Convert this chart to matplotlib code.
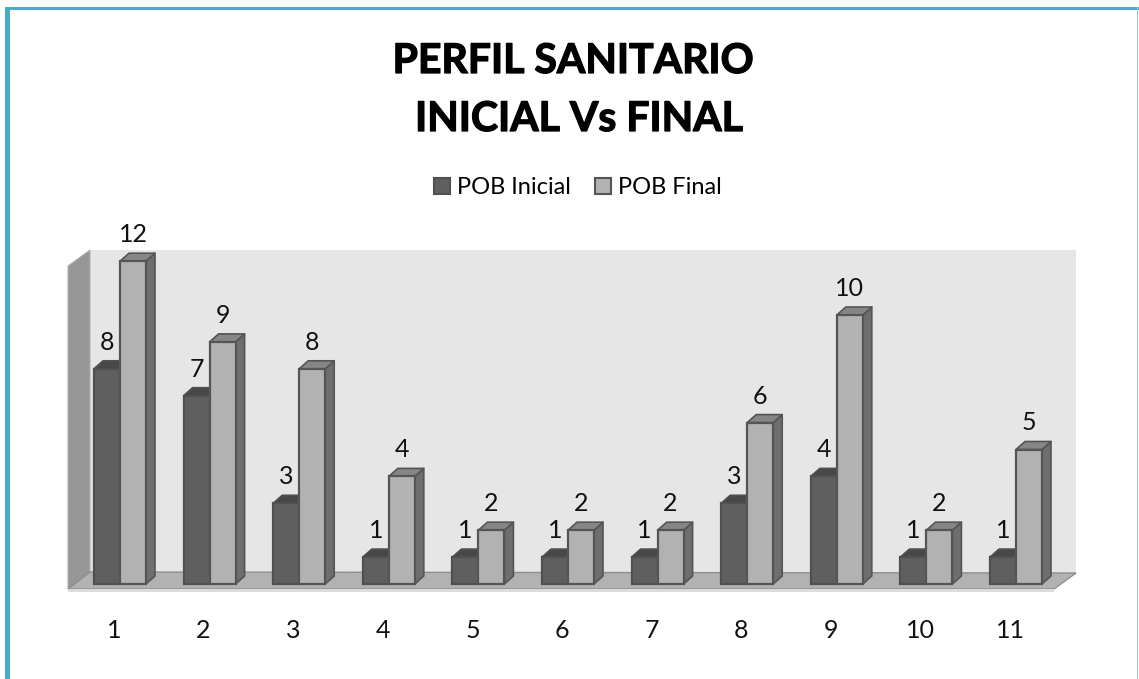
#!/usr/bin/env python3
"""Perfil sanitario, inicial vs final: fake-3D clustered columns."""
import matplotlib

matplotlib.use("Agg")
import matplotlib.patheffects as pe
import matplotlib.pyplot as plt
from matplotlib.patches import Patch, Polygon, Rectangle

categories = [1, 2, 3, 4, 5, 6, 7, 8, 9, 10, 11]
pob_inicial = [8, 7, 3, 1, 1, 1, 1, 3, 4, 1, 1]
pob_final = [12, 9, 8, 4, 2, 2, 2, 6, 10, 2, 5]

W, H = 1139, 679
X0, UX = 120.0, 89.6  # pixel of category 1, pixels per category
Y0, UY = 584.0, 26.9  # pixel of value 0, pixels per unit
BAR_W = 26 / UX
DX, DY = 9 / UX, 8 / UY  # depth of the 3D effect

plt.rcParams["font.family"] = ["Lato", "DejaVu Sans"]
fig = plt.figure(figsize=(W / 100, H / 100), dpi=100)
ax = fig.add_axes([0, 0, 1, 1])
ax.set_xlim(1 - X0 / UX, 1 + (W - X0) / UX)
ax.set_ylim(-(H - Y0) / UY, Y0 / UY)
ax.axis("off")


def px(x, y):
    return ((x - X0) / UX + 1, (Y0 - y) / UY)


def poly(points, **kw):
    ax.add_patch(Polygon([px(*p) for p in points], closed=True, **kw))


# outer frame
for rect, col in [((5, 7, 5, 672), "#4bacc6"), ((5, 7, 1134, 3), "#4bacc6"),
                  ((1137, 7, 1.5, 672), "#92cddc")]:
    x, y, w, h = rect
    poly([(x, y), (x + w, y), (x + w, y + h), (x, y + h)], fc=col, ec="none")

# back wall, side wall, floor
poly([(90, 250), (1076, 250), (1076, 573), (90, 573)], fc="#e6e6e6", ec="none")
poly([(68, 266), (90, 250), (90, 573), (68, 589)], fc="#969696", ec="#b0b0b0", lw=0.8)
poly([(68, 589), (90, 572), (1076, 573), (1054, 589)], fc="#b2b2b2", ec="#8f8f8f", lw=1.0)
poly([(68, 589), (1054, 589), (1054, 592), (68, 592)], fc="#dcdcdc", ec="none")


def column(xc, val, face, top, side, edge):
    left = xc - BAR_W
    right = xc
    ax.add_patch(Polygon([(right, 0), (right + DX, DY), (right + DX, val + DY), (right, val)],
                         fc=side, ec=edge, lw=1.2, joinstyle="round"))
    ax.add_patch(Polygon([(left, val), (left + DX, val + DY), (right + DX, val + DY), (right, val)],
                         fc=top, ec=edge, lw=1.2, joinstyle="round"))
    ax.add_patch(Rectangle((left, 0), BAR_W, val, fc=face, ec=edge, lw=1.6))


for c, a, b in zip(categories, pob_inicial, pob_final):
    column(c, a, "#5f5f5f", "#484848", "#484848", "#505050")
    column(c + BAR_W, b, "#b2b2b2", "#868686", "#6e6e6e", "#555555")
    for xc, val in [(c - BAR_W / 2, a), (c + BAR_W / 2, b)]:
        ax.annotate(str(val), (xc, val), xytext=(0, 26.5 * 0.72), textcoords="offset points",
                    ha="center", va="center", fontsize=18, color="#111111")
    ax.annotate(str(c), (c - BAR_W * 0.23, 0), xytext=(0, -47 * 0.72), textcoords="offset points",
                ha="center", va="center", fontsize=18, color="#111111")

# title font is heavier than Lato Bold at this width, so thicken with a thin stroke
heavy = [pe.withStroke(linewidth=0.9, foreground="black")]
ax.text(*px(573, 73), "PERFIL SANITARIO", ha="center", va="baseline", fontsize=29.5,
        fontweight="bold", color="black", path_effects=heavy)
ax.text(*px(579, 131), "INICIAL Vs FINAL", ha="center", va="baseline", fontsize=29.5,
        fontweight="bold", color="black", path_effects=heavy)

handles = [Patch(fc="#5f5f5f", ec="#505050", lw=1.5, label="POB Inicial"),
           Patch(fc="#b2b2b2", ec="#555555", lw=1.5, label="POB Final")]
ax.legend(handles=handles, ncol=2, frameon=False, loc="center",
          bbox_to_anchor=(578 / W, 1 - 187.5 / H), fontsize=17,
          handlelength=0.66, handleheight=0.66, handletextpad=0.3, columnspacing=1.05)

fig.savefig("out.png", dpi=100, facecolor="white")
plt.close(fig)
